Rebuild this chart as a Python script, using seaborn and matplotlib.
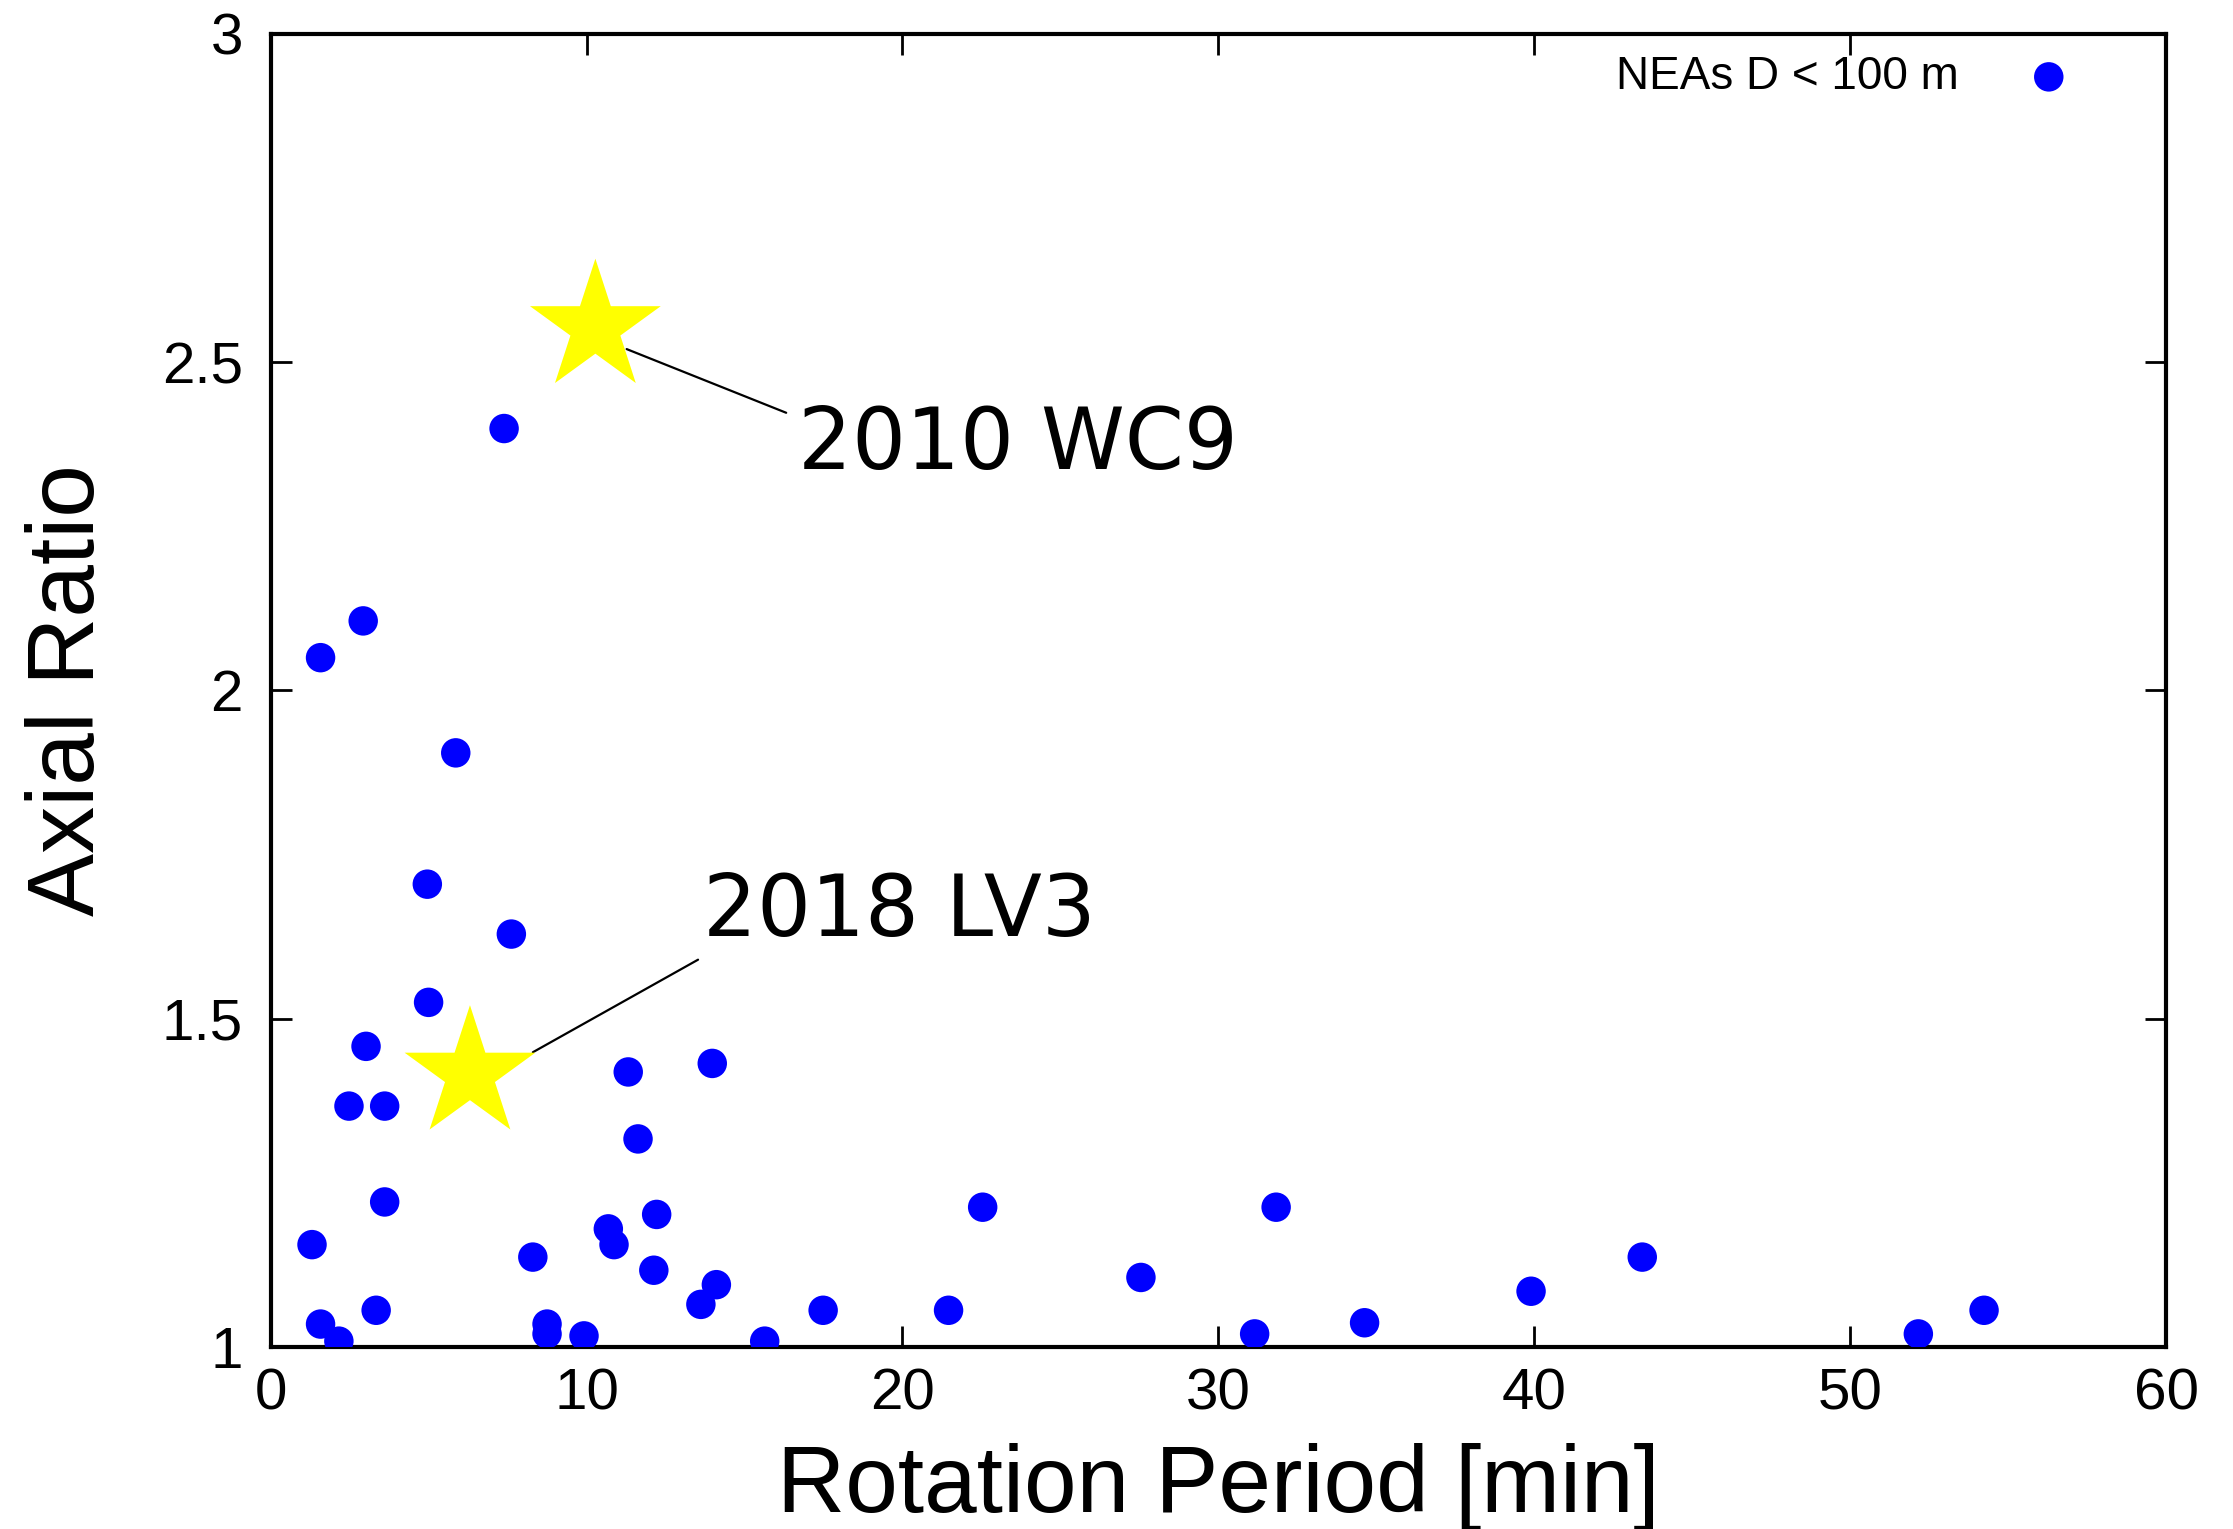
import numpy as np
import pandas as pd
import matplotlib
matplotlib.use("Agg")
import matplotlib.pyplot as plt
import seaborn as sns

# NEAs D < 100 m (periodo en minutos, cociente axial)
period_min = [1.31, 1.58, 1.58, 2.16, 2.48, 2.93, 3.02, 3.34, 3.61, 3.61,
              4.96, 5.00, 5.86, 7.39, 7.62, 8.30, 8.75, 8.75, 9.92, 10.69,
              10.87, 11.32, 11.63, 12.13, 12.22, 13.62, 13.98, 14.11, 15.64, 17.49,
              21.46, 22.54, 27.55, 31.15, 31.83, 34.63, 39.90, 43.42, 52.16, 54.24]
axial_ratio = [1.156, 1.035, 2.050, 1.009, 1.367, 2.106, 1.458, 1.056, 1.367, 1.221,
               1.705, 1.525, 1.905, 2.399, 1.629, 1.137, 1.035, 1.020, 1.017, 1.180,
               1.156, 1.419, 1.317, 1.117, 1.202, 1.065, 1.432, 1.095, 1.009, 1.056,
               1.056, 1.213, 1.106, 1.020, 1.213, 1.037, 1.085, 1.137, 1.020, 1.056]

# asteroides destacados
star_names = ["2010 WC9", "2018 LV3"]
star_period = [10.28, 6.31]
star_ratio = [2.553, 1.416]
label_pos = [(16.7, 2.373), (13.7, 1.662)]
line_start = [(11.27, 2.52), (8.30, 1.449)]
line_end = [(16.32, 2.423), (13.53, 1.59)]

xticks = [0, 10, 20, 30, 40, 50, 60]
yticks = [1, 1.5, 2, 2.5, 3]
ytick_labels = ["1", "1.5", "2", "2.5", "3"]

df = pd.DataFrame({"period": period_min, "ratio": axial_ratio})
df_stars = pd.DataFrame({"period": star_period, "ratio": star_ratio, "name": star_names})

sns.set_style("ticks")
plt.rcParams["font.family"] = ["Liberation Sans", "DejaVu Sans"]
plt.rcParams["text.color"] = "black"
plt.rcParams["axes.labelcolor"] = "black"
plt.rcParams["xtick.color"] = "black"
plt.rcParams["ytick.color"] = "black"

fig = plt.figure(figsize=(22.33, 15.29), dpi=100)
ax = fig.add_axes([0.1212, 0.119, 0.8488, 0.8588])

sns.scatterplot(data=df, x="period", y="ratio", color="#0000ff", s=450,
                edgecolor="none", label="NEAs D < 100 m", ax=ax, zorder=3)
sns.scatterplot(data=df_stars, x="period", y="ratio", color="#ffff00", marker="*",
                s=9800, edgecolor="none", legend=False, ax=ax, zorder=2)

for name, pos, p0, p1 in zip(star_names, label_pos, line_start, line_end):
    ax.plot([p0[0], p1[0]], [p0[1], p1[1]], color="black", lw=1.6, zorder=1)
    ax.text(pos[0], pos[1], name, fontsize=61, family="DejaVu Sans",
            ha="left", va="center", color="black")

ax.set_xlim(0, 60)
ax.set_ylim(1, 3)
ax.set_xticks(xticks)
ax.set_yticks(yticks)
ax.set_yticklabels(ytick_labels)
ax.tick_params(direction="in", length=15, width=2, labelsize=42,
               top=True, right=True)
ax.tick_params(axis="x", pad=15)
ax.tick_params(axis="y", pad=20)
for sp in ax.spines.values():
    sp.set_linewidth(3)
    sp.set_color("black")

ax.set_xlabel("Rotation Period [min]", fontsize=68, labelpad=15)
ax.set_ylabel("Axial Ratio", fontsize=68, labelpad=34)

ax.legend(loc="upper right", bbox_to_anchor=(0.972, 0.998), frameon=False,
          markerfirst=False, fontsize=33, handletextpad=0.96, borderaxespad=0)

fig.savefig("out.png", dpi=100)
